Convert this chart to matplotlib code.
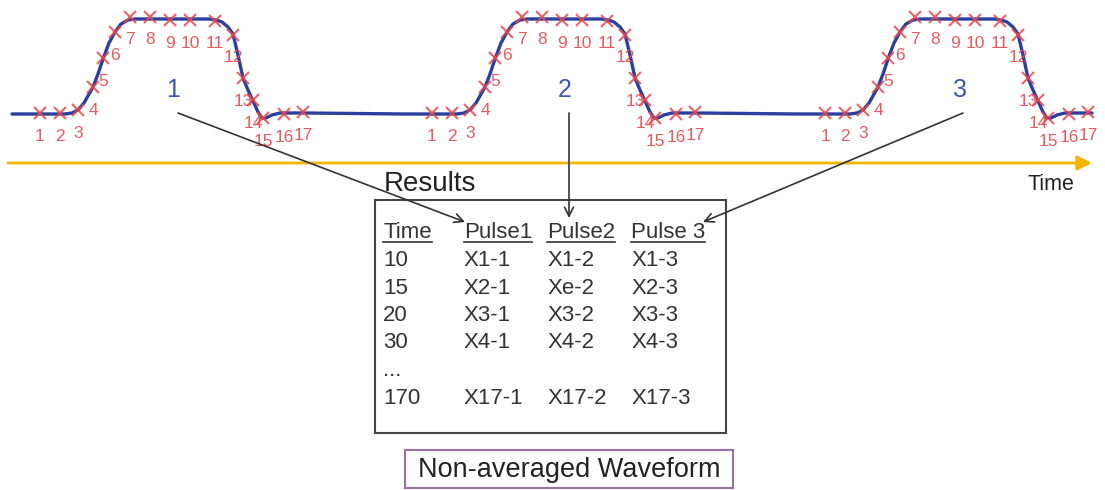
import matplotlib.pyplot as plt

plt.rcParams['font.family'] = ['Liberation Sans', 'DejaVu Sans']

# waveform of one pulse (pixel coords of pulse 1)
curve_x = [12, 65, 72, 78, 84, 93, 98, 103, 109, 115, 121, 128, 135, 210, 216, 222, 228,
           233, 238, 243, 248, 253, 258, 262, 266, 272, 280, 307]
curve_y = [114, 114, 113, 110, 103, 87, 74, 59, 43, 32, 24, 20, 19, 19, 20, 22, 27,
           34, 55, 78, 90, 101, 112, 118, 118, 115, 113, 113]

# 17 sample points of one pulse
sample_x = [40, 60, 78, 93, 103, 115, 130, 150, 170, 190, 215, 233, 243, 253, 263, 284, 303]
sample_y = [113, 113, 110, 87, 58, 32, 17, 17, 20, 20, 21, 35, 78, 100, 118, 114, 112]
sample_labels = [str(i) for i in range(1, 18)]

pulse_shift = [0, 392, 785]
pulse_names = ['1', '2', '3']
pulse_name_x = [173, 565, 960]
arrow_start = [(178, 113), (569, 113), (963, 113)]
arrow_end = [(465, 222), (569, 218), (703, 222)]

# results table
table_header = ['Time', 'Pulse1', 'Pulse2', 'Pulse 3']
table_time = ['10', '15', '20', '30', '...', '170']
table_p1 = ['X1-1', 'X2-1', 'X3-1', 'X4-1', '', 'X17-1']
table_p2 = ['X1-2', 'Xe-2', 'X3-2', 'X4-2', '', 'X17-2']
table_p3 = ['X1-3', 'X2-3', 'X3-3', 'X4-3', '', 'X17-3']

blue = '#2b3f9e'
red = '#e8474d'
dark = '#333333'

fig = plt.figure(figsize=(11.05, 4.9), dpi=100)
ax = fig.add_axes([0, 0, 1, 1])
ax.set_xlim(0, 1105)
ax.set_ylim(490, 0)
ax.axis('off')

# waveform line (three pulses joined)
wx, wy = [], []
for s in pulse_shift:
    wx += [x + s for x in curve_x]
    wy += curve_y
ax.plot(wx, wy, color=blue, lw=2.4, solid_capstyle='round', zorder=2)

for s, name, nx in zip(pulse_shift, pulse_names, pulse_name_x):
    ax.plot([x + s for x in sample_x], sample_y, ls='none', marker='x', ms=8,
            mew=1.5, color=red, alpha=0.85, zorder=3)
    for x, y, lab in zip(sample_x, sample_y, sample_labels):
        ax.text(x + s, y + 23, lab, color=red, fontsize=12.5, ha='center', va='center',
                alpha=0.9, zorder=3)
    ax.text(nx, 90, name, color='#3a56b0', fontsize=18, ha='center', va='center')

# time axis
ax.annotate('', xy=(1092, 163), xytext=(8, 163),
            arrowprops=dict(arrowstyle='-|>', color='#f4b400', lw=2,
                            mutation_scale=22, shrinkA=0, shrinkB=0))
ax.text(1051, 184, 'Time', fontsize=15.5, ha='center', va='center', color='#222222')

# arrows from pulses to table
for (x0, y0), (x1, y1) in zip(arrow_start, arrow_end):
    ax.annotate('', xy=(x1, y1), xytext=(x0, y0),
                arrowprops=dict(arrowstyle='->', color=dark, lw=1.2,
                                mutation_scale=16, shrinkA=0, shrinkB=0), zorder=4)

# results box
ax.add_patch(plt.Rectangle((375, 200), 351, 233, fill=False, ec='#444444', lw=1.5))
ax.text(384, 184, 'Results', fontsize=20, ha='left', va='center', color='#222222')

col_x = [383, 464, 547, 631]
row_y = [260, 288, 315, 342, 370, 398]
fig.canvas.draw()
inv = ax.transData.inverted()
for cx, h in zip(col_x, table_header):
    t = ax.text(cx, 232, h, fontsize=16, ha='left', va='center', color=dark)
    bb = t.get_window_extent()
    (bx0, by0), (bx1, by1) = inv.transform([(bb.x0, bb.y0), (bb.x1, bb.y1)])
    ax.plot([bx0, bx1], [242, 242], color=dark, lw=1.2)
for col, cx in zip([table_time, table_p1, table_p2, table_p3], col_x):
    for val, ry in zip(col, row_y):
        ax.text(cx, ry, val, fontsize=16, ha='left', va='center', color=dark)

# caption box
ax.add_patch(plt.Rectangle((405, 450), 328, 38, fill=False, ec='#9b6fa3', lw=1.5))
ax.text(569, 470, 'Non-averaged Waveform', fontsize=19.5, ha='center', va='center',
        color='#222222')

fig.savefig('out.png', dpi=100)
